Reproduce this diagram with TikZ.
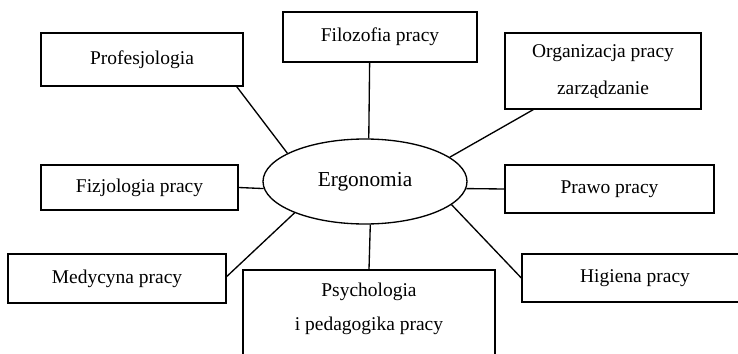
\documentclass[tikz,border=0pt]{standalone}
\usepackage{fontspec}
\setmainfont{Liberation Serif}
\usetikzlibrary{shapes.geometric}
\tikzset{box/.style = {draw, rectangle, inner sep = 0, line width = 1, font = \fontsize{14.6}{17}\selectfont}}
\tikzset{oval/.style = {draw, ellipse, inner sep = 0, line width = 1, font = \fontsize{16}{19}\selectfont}}
\tikzset{link/.style = {line width = 1}}

\begin{document}
\begin{tikzpicture}[x = 0.75pt, y = -0.75pt]
    \clip (0, 0) rectangle (738, 353);

    \node [oval, minimum width = 153pt, minimum height = 63.75pt] (oval) at (365, 181.5) {Ergonomia};

    \node [box, minimum width = 151.5pt, minimum height = 39.75pt] (prof) at (142, 59.5) {Profesjologia};
    \node [box, minimum width = 145.5pt, minimum height = 37.5pt] (filo) at (380, 37) {Filozofia pracy};
    \node [box, minimum width = 147pt, minimum height = 57pt, align = center, font = \fontsize{14.6}{27.75}\selectfont] (org) at (603, 71) {Organizacja pracy\\zarządzanie};
    \node [box, minimum width = 147.75pt, minimum height = 33.75pt] (fiz) at (139.5, 187.5) {Fizjologia pracy};
    \node [box, minimum width = 156.75pt, minimum height = 36pt] (prawo) at (609.5, 189) {Prawo pracy};
    \node [box, minimum width = 163.5pt, minimum height = 36.75pt] (med) at (117, 278.5) {Medycyna pracy};
    \node [box, minimum width = 169.5pt, minimum height = 36pt] (hig) at (635, 278) {Higiena pracy};
    \node [box, minimum width = 189pt, minimum height = 82.5pt] (psych) at (369, 325) {};
    \node [align = center, font = \fontsize{14.6}{25.5}\selectfont] (psychtxt) at (369, 308.5) {Psychologia\\i pedagogika pracy};

    \draw [link] (prof.-16) -- (oval.160);
    \draw [link] (filo.-112) -- (oval.85);
    \draw [link] (org.-151) -- (oval.16);
    \draw [link] (fiz.east) -- (oval.184);
    \draw [link] (oval.-4) -- (prawo.west);
    \draw [link] (med.1) -- (oval.204);
    \draw [link] (oval.-83) -- (psych.north);
    \draw [link] (oval.-15) -- (hig.west);
\end{tikzpicture}
\end{document}
